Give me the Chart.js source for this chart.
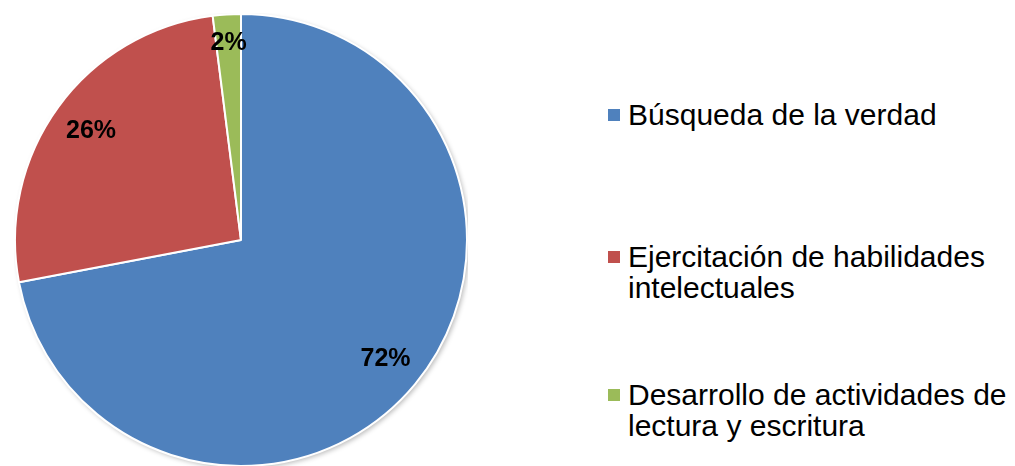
<!DOCTYPE html>
<html lang="es">
<head>
<meta charset="utf-8">
<title>Pie</title>
<script src="https://cdn.jsdelivr.net/npm/chart.js@4/dist/chart.umd.min.js"></script>
<style>
  html, body { margin: 0; padding: 0; background: #fff; overflow: hidden; }
  body { width: 1015px; height: 466px; position: relative; font-family: "Liberation Sans", Arial, sans-serif; }
  #pie-wrap { position: absolute; left: 14px; top: 13px; width: 454px; height: 454px; }
  #legend { position: absolute; left: 608px; top: 0; margin: 0; padding: 0; list-style: none; }
  #legend li { position: absolute; left: 0; white-space: pre; font-size: 30px; line-height: 31px; color: #000; padding-left: 20px; }
  #legend li .sw { position: absolute; left: 0; top: 10px; width: 12px; height: 12px; }
</style>
</head>
<body>
<div id="pie-wrap"><canvas id="pie"></canvas></div>
<ul id="legend"></ul>
<script>
// Data.
const labels = ['Búsqueda de la verdad', 'Ejercitación de habilidades\nintelectuales', 'Desarrollo de actividades de\nlectura y escritura'];
const values = [72, 26, 2];
const colors = ['#4F81BD', '#C0504D', '#9BBB59'];

// label distance from centre as a share of the radius (Excel "best fit" placement)
const labelRadius = [0.83, 0.82, 0.875];
// legend rows: top of each entry in px
const legendTops = [99, 241, 379];

const shadowPlugin = {
  id: 'pieShadow',
  beforeDatasetsDraw(chart) {
    const arc = chart.getDatasetMeta(0).data[0];
    if (!arc) return;
    const { ctx } = chart;
    ctx.save();
    ctx.shadowColor = 'rgba(0,0,0,0.28)';
    ctx.shadowBlur = 5;
    ctx.shadowOffsetX = 2;
    ctx.shadowOffsetY = 2;
    ctx.fillStyle = '#fff';
    ctx.beginPath();
    ctx.arc(arc.x, arc.y, arc.outerRadius, 0, Math.PI * 2);
    ctx.fill();
    ctx.restore();
  },
};

const pctLabels = {
  id: 'pctLabels',
  afterDatasetsDraw(chart) {
    const { ctx } = chart;
    const total = values.reduce((a, b) => a + b, 0);
    ctx.save();
    ctx.font = 'bold 25px "Liberation Sans", Arial, sans-serif';
    ctx.fillStyle = '#000';
    ctx.textAlign = 'center';
    ctx.textBaseline = 'middle';
    chart.getDatasetMeta(0).data.forEach((arc, i) => {
      const mid = (arc.startAngle + arc.endAngle) / 2;
      const r = arc.outerRadius * labelRadius[i];
      const x = arc.x + Math.cos(mid) * r;
      const y = arc.y + Math.sin(mid) * r;
      ctx.fillText(Math.round(values[i] / total * 100) + '%', x, y);
    });
    ctx.restore();
  },
};

new Chart(document.getElementById('pie'), {
  type: 'pie',
  data: {
    labels,
    datasets: [{
      data: values,
      backgroundColor: colors,
      borderColor: '#fff',
      borderWidth: 2,
    }],
  },
  options: {
    responsive: true,
    maintainAspectRatio: false,
    animation: false,
    layout: { padding: 0 },
    plugins: { legend: { display: false }, tooltip: { enabled: false } },
  },
  plugins: [shadowPlugin, pctLabels],
});

const ul = document.getElementById('legend');
ul.innerHTML = labels.map((l, i) =>
  `<li style="top:${legendTops[i]}px"><span class="sw" style="background:${colors[i]}"></span>${l}</li>`
).join('');
</script>
</body>
</html>
